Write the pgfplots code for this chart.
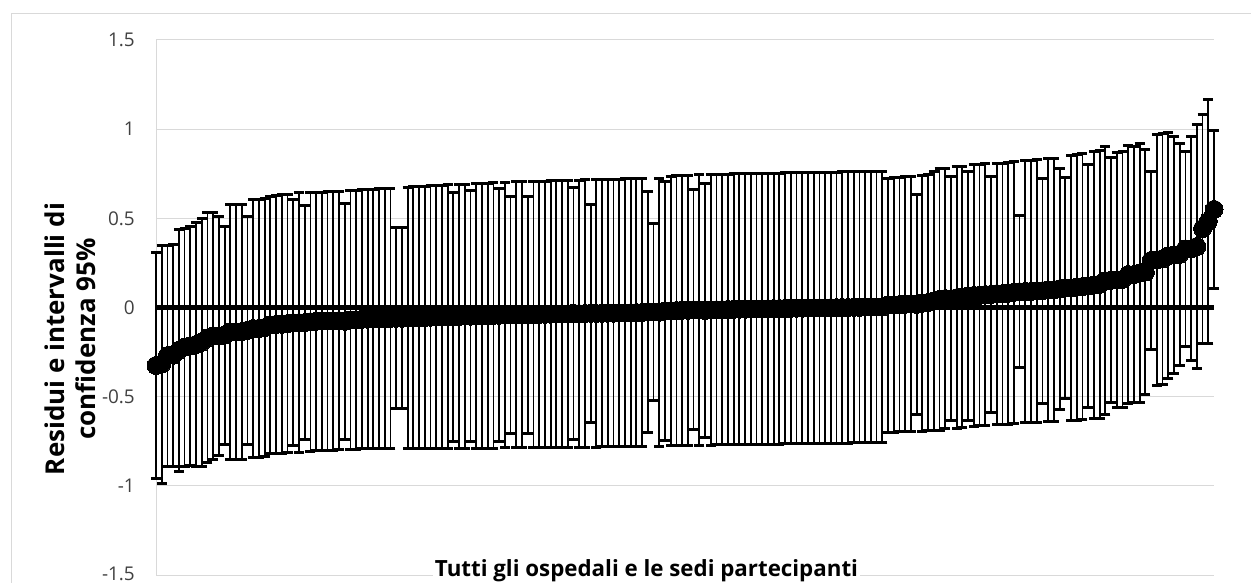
\documentclass[border=0pt]{standalone}
\usepackage{pgfplots}
\pgfplotsset{compat=1.18}
\usepackage{pgfplotstable}
\usepackage{graphicx}
\usepackage{fontspec}
\setmainfont{Open Sans}
\definecolor{gridgray}{HTML}{D9D9D9}
\definecolor{ticktext}{HTML}{404040}

\pgfplotstableread{
x U L
1 0.31 -0.96
2 0.35 -0.985
3 0.35 -0.89
4 0.355 -0.89
5 0.44 -0.92
6 0.445 -0.89
7 0.455 -0.885
8 0.475 -0.89
9 0.50 -0.89
10 0.53 -0.87
11 0.53 -0.85
12 0.51 -0.83
13 0.455 -0.766
14 0.575 -0.85
15 0.576 -0.85
16 0.58 -0.85
17 0.51 -0.766
18 0.604 -0.84
19 0.605 -0.84
20 0.61 -0.835
21 0.625 -0.82
22 0.63 -0.82
23 0.632 -0.82
24 0.635 -0.815
25 0.604 -0.775
26 0.645 -0.815
27 0.57 -0.74
28 0.645 -0.805
29 0.645 -0.80
30 0.647 -0.80
31 0.648 -0.80
32 0.65 -0.80
33 0.65 -0.798
34 0.585 -0.74
35 0.655 -0.795
36 0.657 -0.795
37 0.66 -0.793
38 0.66 -0.792
39 0.662 -0.79
40 0.665 -0.79
41 0.665 -0.79
42 0.668 -0.79
43 0.446 -0.567
44 0.446 -0.567
45 0.675 -0.79
46 0.676 -0.79
47 0.678 -0.792
48 0.68 -0.792
49 0.682 -0.79
50 0.684 -0.79
51 0.686 -0.79
52 0.688 -0.79
53 0.645 -0.75
54 0.69 -0.79
55 0.692 -0.789
56 0.655 -0.752
57 0.694 -0.789
58 0.696 -0.788
59 0.698 -0.788
60 0.70 -0.788
61 0.665 -0.752
62 0.702 -0.787
63 0.623 -0.705
64 0.704 -0.787
65 0.705 -0.786
66 0.625 -0.705
67 0.707 -0.786
68 0.708 -0.786
69 0.709 -0.785
70 0.71 -0.785
71 0.711 -0.785
72 0.712 -0.784
73 0.713 -0.784
74 0.675 -0.74
75 0.714 -0.783
76 0.715 -0.783
77 0.58 -0.645
78 0.716 -0.783
79 0.717 -0.782
80 0.718 -0.782
81 0.719 -0.782
82 0.72 -0.781
83 0.721 -0.781
84 0.722 -0.781
85 0.723 -0.78
86 0.724 -0.78
87 0.65 -0.70
88 0.47 -0.52
89 0.726 -0.779
90 0.706 -0.747
91 0.735 -0.772
92 0.738 -0.772
93 0.74 -0.772
94 0.742 -0.773
95 0.66 -0.686
96 0.744 -0.772
97 0.697 -0.73
98 0.745 -0.772
99 0.746 -0.771
100 0.747 -0.771
101 0.748 -0.77
102 0.749 -0.77
103 0.75 -0.769
104 0.75 -0.769
105 0.751 -0.768
106 0.752 -0.768
107 0.752 -0.767
108 0.753 -0.767
109 0.754 -0.766
110 0.754 -0.766
111 0.755 -0.765
112 0.755 -0.765
113 0.756 -0.764
114 0.756 -0.764
115 0.757 -0.763
116 0.757 -0.763
117 0.758 -0.762
118 0.758 -0.762
119 0.759 -0.761
120 0.759 -0.761
121 0.76 -0.76
122 0.76 -0.76
123 0.761 -0.759
124 0.761 -0.759
125 0.762 -0.758
126 0.762 -0.758
127 0.763 -0.757
128 0.763 -0.757
129 0.726 -0.70
130 0.728 -0.699
131 0.73 -0.698
132 0.733 -0.697
133 0.736 -0.696
134 0.632 -0.598
135 0.742 -0.694
136 0.748 -0.692
137 0.762 -0.69
138 0.78 -0.69
139 0.78 -0.68
140 0.734 -0.636
141 0.79 -0.68
142 0.79 -0.675
143 0.762 -0.636
144 0.80 -0.665
145 0.80 -0.664
146 0.805 -0.66
147 0.735 -0.589
148 0.81 -0.655
149 0.81 -0.655
150 0.815 -0.655
151 0.82 -0.65
152 0.514 -0.337
153 0.825 -0.645
154 0.825 -0.645
155 0.83 -0.645
156 0.725 -0.537
157 0.836 -0.64
158 0.836 -0.64
159 0.78 -0.57
160 0.73 -0.51
161 0.855 -0.636
162 0.86 -0.632
163 0.865 -0.63
164 0.80 -0.56
165 0.875 -0.622
166 0.88 -0.62
167 0.90 -0.60
168 0.84 -0.535
169 0.87 -0.56
170 0.874 -0.56
171 0.91 -0.54
172 0.90 -0.53
173 0.917 -0.53
174 0.884 -0.487
175 0.762 -0.235
176 0.968 -0.436
177 0.975 -0.43
178 0.98 -0.40
179 0.958 -0.37
180 0.92 -0.324
181 0.874 -0.216
182 0.958 -0.30
183 1.027 -0.343
184 1.085 -0.20
185 1.167 -0.20
186 0.995 0.105
}\datatable

\begin{document}
\begin{tikzpicture}
\useasboundingbox (0bp,0bp) rectangle (1251bp,583bp);
\draw[gridgray, line width=1bp] (11bp,-20bp) -- (11bp,569bp) -- (1280bp,569bp);
\begin{axis}[
  at={(156bp,8bp)}, anchor=south west, scale only axis,
  width=1058bp, height=535bp,
  xmin=1, xmax=186, ymin=-1.5, ymax=1.5,
  axis lines*=left,
  x axis line style={draw=none},
  y axis line style={draw=gridgray, line width=1bp},
  xtick=\empty,
  ytick={-1.5,-1,-0.5,0,0.5,1,1.5},
  yticklabels={\raisebox{2.5bp}{-1.5},-1,-0.5,0,0.5,1,1.5},
  major tick length=0pt,
  ymajorgrids,
  grid style={draw=gridgray, line width=1bp},
  yticklabel style={font=\fontsize{19}{22}\selectfont, text=ticktext, anchor=east, inner sep=0pt, xshift=-21bp},
  clip=false,
]
\addplot[draw=none, mark=none, forget plot,
  error bars/.cd, y dir=both, y explicit,
  error bar style={draw=black, line width=1.8bp},
  error mark options={rotate=90, draw=black, line width=3bp, mark size=5bp}]
  table[x=x, y expr={(\thisrow{U}+\thisrow{L})/2}, y error expr={(\thisrow{U}-\thisrow{L})/2}] {\datatable};
\addplot[black, line width=4.5bp, forget plot] coordinates {(1,0) (186,0)};
\addplot[only marks, mark=*, mark size=9bp, mark options={draw=black, fill=black, line width=0pt}]
  table[x=x, y expr={(\thisrow{U}+\thisrow{L})/2}] {\datatable};
\end{axis}
\node[rotate=90, anchor=center, inner sep=0pt] at (73.7bp,244bp)
  {\resizebox{272bp}{!}{\fontsize{20}{24}\selectfont\bfseries\begin{tabular}{@{}c@{}}Residui e intervalli di\\confidenza 95\%\end{tabular}}};
\node[anchor=base, fill=white, inner sep=1.5bp] at (646.5bp,6.5bp)
  {\resizebox{423bp}{!}{\bfseries Tutti gli ospedali e le sedi partecipanti}};
\end{tikzpicture}
\end{document}
